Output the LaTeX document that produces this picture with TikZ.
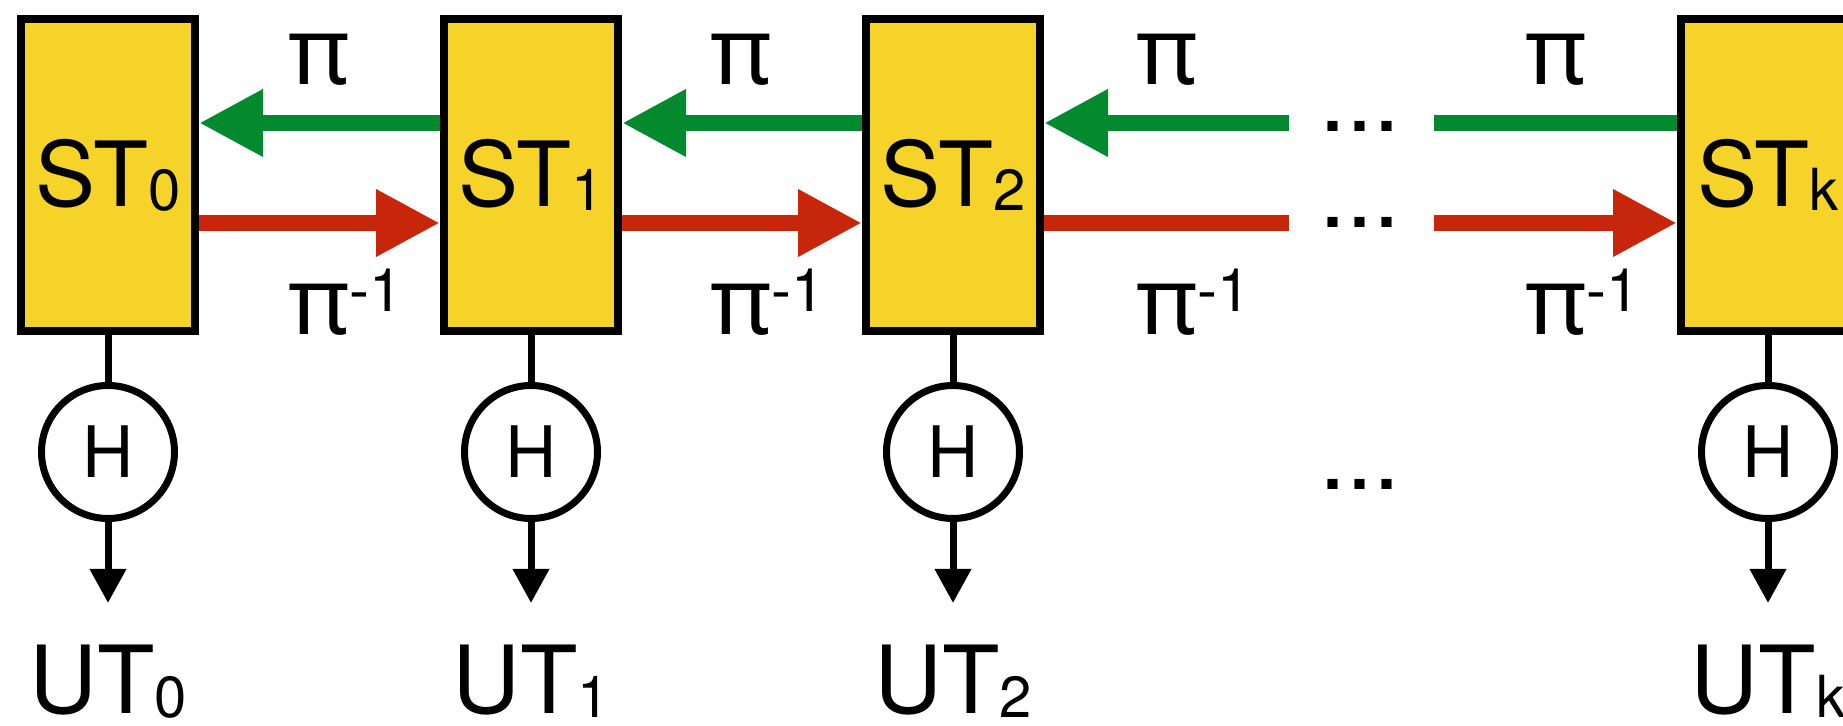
\documentclass[tikz,border=0pt]{standalone}
\usepackage{fontspec}
\setmainfont{TeX Gyre Heros}
\newfontfamily\pifont{Noto Sans}
\usetikzlibrary{arrows.meta}
\definecolor{stYellow}{RGB}{245,211,40}
\definecolor{piGreen}{RGB}{3,138,46}
\definecolor{piRed}{RGB}{200,38,10}
\newcommand{\lowidx}[1]{\raisebox{-2pt}{\fontsize{29}{29}\selectfont #1}}
\newcommand{\pisym}{{\pifont\fontsize{47}{47}\selectfont π}}
\newcommand{\piinv}{\pisym\rlap{\raisebox{11.5pt}{\fontsize{30}{30}\selectfont -1}}}
\begin{document}
\begin{tikzpicture}[x=0.5pt, y=0.5pt,
    st/.style={draw, line width=4pt, fill=stYellow, minimum width=87pt, minimum height=156pt, inner sep=0pt, font=\fontsize{45}{45}\selectfont},
    hnode/.style={draw, circle, line width=3.5pt, minimum size=66.5pt, inner sep=0pt, font=\fontsize{35.5}{35.5}\selectfont},
    lbl/.style={anchor=base, inner sep=0pt, font=\fontsize{45}{45}\selectfont},
    ut/.style={anchor=base, inner sep=0pt, font=\fontsize{47}{47}\selectfont},
    garr/.style={piGreen, line width=8pt, -{Triangle[length=32pt, width=31.5pt]}},
    rarr/.style={piRed, line width=8pt, -{Triangle[length=32pt, width=31.5pt]}},
    stem/.style={line width=3.5pt},
    outarr/.style={line width=3.5pt, -{Triangle[length=17pt, width=17.5pt]}}]
      \useasboundingbox (0,0) rectangle (1843,726);
      \clip (0,0) rectangle (1843,726);
      \node[st] (ST0) at (108,551) {ST\lowidx{0}};
      \node[st] (ST1) at (531,551) {ST\lowidx{1}};
      \node[st] (ST2) at (953,551) {ST\lowidx{2}};
      \node[st] (STk) at (1768,551) {ST\lowidx{k}};
      \node[hnode] (H0) at (108,274) {H};
      \node[hnode] (H1) at (531,274) {H};
      \node[hnode] (H2) at (953,274) {H};
      \node[hnode] (Hk) at (1768,274) {H};
      \coordinate (O0) at (108,123);
      \coordinate (O1) at (531,123);
      \coordinate (O2) at (953,123);
      \coordinate (Ok) at (1768,123);
      \node[ut] (UT0) at (108,12) {UT\lowidx{0}};
      \node[ut] (UT1) at (531,12) {UT\lowidx{1}};
      \node[ut] (UT2) at (953,12) {UT\lowidx{2}};
      \node[ut] (UTk) at (1768,12) {UT\lowidx{k}};
      \draw[stem] (ST0) -- (H0);
      \draw[stem] (ST1) -- (H1);
      \draw[stem] (ST2) -- (H2);
      \draw[stem] (STk) -- (Hk);
      \draw[outarr] (H0) -- (O0);
      \draw[outarr] (H1) -- (O1);
      \draw[outarr] (H2) -- (O2);
      \draw[outarr] (Hk) -- (Ok);
      \draw[garr] ([yshift=26pt]ST1.west) -- ([yshift=26pt]ST0.east);
      \draw[garr] ([yshift=26pt]ST2.west) -- ([yshift=26pt]ST1.east);
      \draw[rarr] ([yshift=-24pt]ST0.east) -- ([yshift=-24pt]ST1.west);
      \draw[rarr] ([yshift=-24pt]ST1.east) -- ([yshift=-24pt]ST2.west);
      \coordinate (G2) at (1289,603);
      \coordinate (Gk) at (1434,603);
      \coordinate (R2) at (1289,503);
      \coordinate (Rk) at (1434,503);
      \draw[garr] (G2) -- (ST2.east |- G2);
      \draw[piGreen, line width=8pt] (STk.west |- Gk) -- (Gk);
      \draw[piRed, line width=8pt] (ST2.east |- R2) -- (R2);
      \draw[rarr] (Rk) -- (STk.west |- Rk);
      \node[lbl] (P01) at (319,641) {\pisym};
      \node[lbl] (P12) at (741,641) {\pisym};
      \node[lbl] (P2x) at (1167,641) {\pisym};
      \node[lbl] (Pxk) at (1556,641) {\pisym};
      \node[lbl] (Q01) at (319,391) {\piinv};
      \node[lbl] (Q12) at (741,391) {\piinv};
      \node[lbl] (Q2x) at (1167,391) {\piinv};
      \node[lbl] (Qxk) at (1556,391) {\piinv};
      \node[lbl, font=\fontsize{48.5}{48.5}\selectfont] (DG) at (1360,594) {...};
      \node[lbl, font=\fontsize{48.5}{48.5}\selectfont] (DR) at (1360,498) {...};
      \node[lbl, font=\fontsize{48.5}{48.5}\selectfont] (DH) at (1360,236) {...};
   \end{tikzpicture}
\end{document}
